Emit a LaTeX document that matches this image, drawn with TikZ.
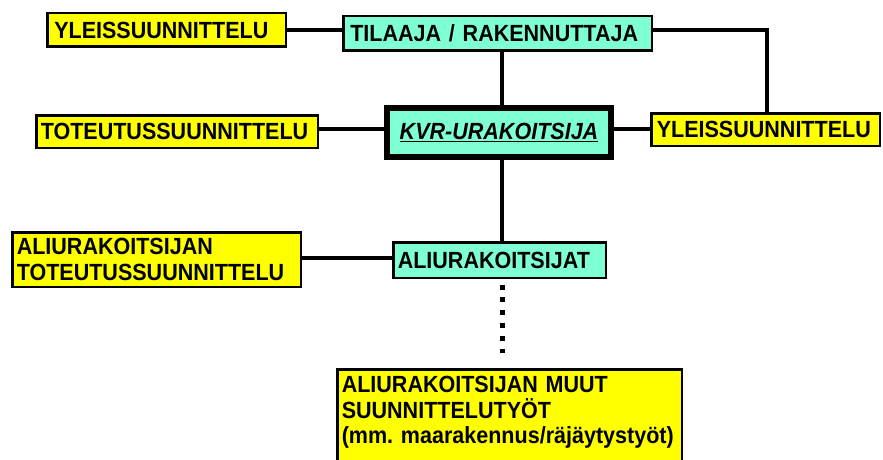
\documentclass[tikz,border=0pt]{standalone}
\usepackage{fontspec}
\setmainfont{Liberation Sans}[FakeStretch=0.92]
\usetikzlibrary{calc}
\definecolor{boxyellow}{RGB}{255,255,0}
\definecolor{boxaqua}{RGB}{127,255,212}
\tikzset{
  box/.style={draw, line width=2.5pt, anchor=north west, inner ysep=0pt,
    align=left, font=\fontsize{23.4}{25.5}\selectfont\bfseries\frenchspacing},
  ybox/.style={box, fill=boxyellow},
  abox/.style={box, fill=boxaqua},
  conn/.style={line width=4pt},
  dots/.style={line width=5pt, dash pattern=on 5pt off 7.8pt}
}
\begin{document}
\begin{tikzpicture}[x=1pt,y=-1pt]
\path[use as bounding box, clip] (0,0) rectangle (883,460);
\fill[white] (0,0) rectangle (883,460);

\node[ybox, inner xsep=7pt, text width=224.5pt, minimum width=238.5pt, minimum height=33.5pt] (Y1) at (46,12) {YLEISSUUNNITTELU};
\node[abox, inner xsep=7pt, text width=294.5pt, minimum width=308.5pt, minimum height=34.5pt] (TIL) at (342,15) {TILAAJA / RAKENNUTTAJA};
\node[ybox, inner xsep=4.5pt, text width=272.5pt, minimum width=281.5pt, minimum height=32.5pt] (TOT) at (35,114) {TOTEUTUSSUUNNITTELU};
\node[abox, line width=6pt, align=center, minimum width=224pt, minimum height=49pt] (KVR) at (384,105) {\underline{\textit{KVR-URAKOITSIJA}}};
\node[ybox, inner xsep=5.5pt, text width=217.5pt, minimum width=228.5pt, minimum height=32.5pt] (YR) at (650,112) {YLEISSUUNNITTELU};
\node[ybox, inner xsep=4.5pt, text width=279.5pt, minimum width=288.5pt, minimum height=54.5pt] (ALT) at (11,231) {ALIURAKOITSIJAN\\TOTEUTUSSUUNNITTELU};
\node[abox, inner xsep=4.5pt, text width=203.5pt, minimum width=212.5pt, minimum height=35.5pt] (ALI) at (392,241) {ALIURAKOITSIJAT};
\node[ybox, inner xsep=4.5pt, inner ysep=7pt, text width=335.5pt, minimum width=344.5pt] (BOT) at (336,368) {\mbox{ALIURAKOITSIJAN MUUT}\\\mbox{SUUNNITTELUTYÖT}\\\mbox{(mm. maarakennus/räjäytystyöt)}\\ \mbox{}\\ \mbox{}};

\coordinate (spine) at (502,0);
\coordinate (r1) at (0,30);
\coordinate (r2) at (0,129);
\coordinate (r3) at (0,258);
\coordinate (corner) at (767,30);

\draw[conn] (Y1.east |- r1) -- (TIL.west |- r1);
\draw[conn] (TIL.east |- r1) -- (corner) -- (corner |- YR.north);
\draw[conn] (TIL.south -| spine) -- (KVR.north -| spine);
\draw[conn] (TOT.east |- r2) -- (KVR.west |- r2);
\draw[conn] (KVR.east |- r2) -- (YR.west |- r2);
\draw[conn] (KVR.south -| spine) -- (ALI.north -| spine);
\draw[conn] (ALT.east |- r3) -- (ALI.west |- r3);
\draw[dots] ([yshift=-5.5pt]ALI.south -| spine) -- ([yshift=15pt]BOT.north -| spine);
\end{tikzpicture}
\end{document}
